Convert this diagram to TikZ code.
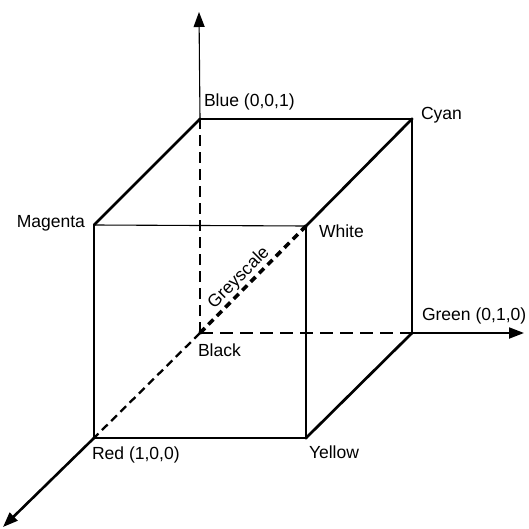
\documentclass[tikz,border=0pt]{standalone}
\usepackage{fontspec}
\setmainfont{Liberation Sans}
\usetikzlibrary{arrows.meta}
\newcommand{\labelfont}{\fontsize{17.6}{18}\selectfont}
\tikzset{
  every node/.style={font=\labelfont,inner sep=0pt,outer sep=0pt},
  thin edge/.style={line width=1.1bp},
  thick edge/.style={line width=2.7bp,line cap=round},
  hidden/.style={line width=1.1bp,dash pattern=on 11bp off 6bp},
  axis/.style={-{Triangle[length=15bp,width=11bp]}},
  grey line/.style={line width=3.6bp,dash pattern=on 7bp off 5bp}
}
\begin{document}
\begin{tikzpicture}[x=1bp,y=-1bp]

\path[use as bounding box] (0,0) rectangle (529,529);
% cube corners, black at the origin
\coordinate (black) at (200,333);
\coordinate (blue) at (200,119);
\coordinate (cyan) at (412,119);
\coordinate (green) at (412,333);
\coordinate (magenta) at (94,225);
\coordinate (white) at (306,226);
\coordinate (red) at (94,438);
\coordinate (yellow) at (306,438);
\coordinate (zend) at (199,12);
\coordinate (yend) at (524,333);
\coordinate (xend) at (3,527);

% hidden edges and the grey diagonal
\draw[hidden] (black) -- (blue);
\draw[hidden,line width=1.6bp,dash pattern=on 13bp off 7bp] (black) -- (green);
\draw[line width=2.3bp,dash pattern=on 8bp off 5bp] (black) -- (red);
\draw[grey line] (black) -- (white);

% visible edges
\draw[thin edge] (blue) -- (cyan);
\draw[thin edge] (magenta) -- (white);
\draw[thin edge] (magenta) -- (red);
\draw[thick edge] (blue) -- (magenta);
\draw[thick edge] (cyan) -- (white);
\draw[thick edge] (cyan) -- (green);
\draw[thick edge] (green) -- (yellow);
\draw[thick edge] (white) -- (yellow);
\draw[thick edge,line width=2.3bp] (red) -- (yellow);

% axes
\draw[axis,line width=1.1bp] (blue) -- (zend);
\draw[axis,line width=2bp] (green) -- (yend);
\draw[axis,line width=2.6bp] (red) -- (xend);

\foreach \c in {black,blue,cyan,green,white,red,yellow}
 \fill (\c) circle (1.6bp);

\node[anchor=west] (lblue) at (204,102) {Blue (0,0,1)};
\node[anchor=west] (lcyan) at (421,115) {Cyan};
\node[anchor=east] (lmagenta) at (85,223) {Magenta};
\node[anchor=west] (lwhite) at (319,231) {White};
\node[anchor=west] (lblack) at (198,350) {Black};
\node[anchor=west] (lgreen) at (422,316) {Green (0,1,0)};
\node[anchor=west] (lred) at (92,455) {Red (1,0,0)};
\node[anchor=west] (lyellow) at (309,452) {Yellow};
\node[rotate=45] (lgrey) at (239,278) {Greyscale};
\end{tikzpicture}
\end{document}
